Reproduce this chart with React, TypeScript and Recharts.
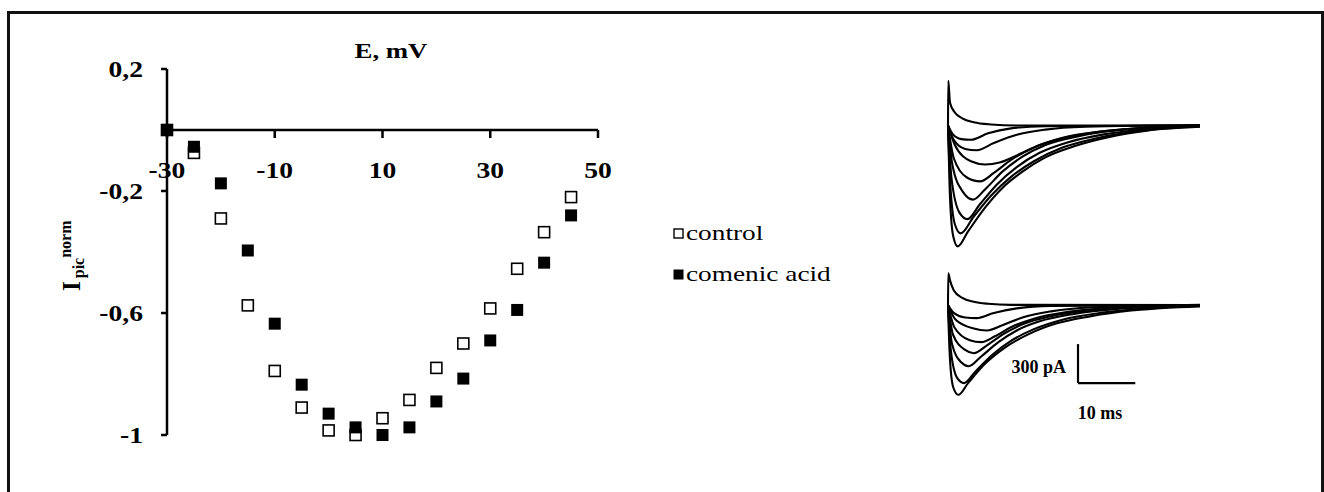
import React from 'react';
import {
  ScatterChart,
  Scatter,
  XAxis,
  YAxis,
  Legend,
  LineChart,
  Line,
  ReferenceLine,
} from 'recharts';

// I-V data (membrane potential, mV / normalized peak current)
const voltages = [-30, -25, -20, -15, -10, -5, 0, 5, 10, 15, 20, 25, 30, 35, 40, 45];
const controlNorm = [0, -0.075, -0.29, -0.575, -0.79, -0.91, -0.985, -1.0, -0.945, -0.885, -0.78, -0.7, -0.585, -0.455, -0.335, -0.22];
const comenicNorm = [0, -0.055, -0.175, -0.395, -0.635, -0.835, -0.93, -0.975, -1.0, -0.975, -0.89, -0.815, -0.69, -0.59, -0.435, -0.28];

const xTicks = [-30, -10, 10, 30, 50];
const yTicks = [0.2, -0.2, -0.6, -1];

// current traces, [time ms, current pA]
const topCap = [[0, 0], [0.05, 345], [0.35, 175], [1.2, 100], [2.5, 55], [4.5, 25], [7.5, 8], [12, 0], [44, 0]];
const top1 = [[0, 0], [0.3, -500], [0.9, -850], [1.7, -930], [3.5, -815], [6.5, -630], [9.5, -480], [13, -355], [17, -245], [22, -160], [28, -90], [35, -38], [44, -10]];
const top2 = [[0, 0], [0.4, -450], [1.2, -760], [2.2, -830], [4.5, -700], [7.5, -540], [11, -395], [15, -275], [20, -170], [26, -98], [33, -45], [44, -8]];
const top3 = [[0, 0], [0.6, -400], [2, -670], [3.4, -720], [5.5, -610], [8.5, -455], [12, -320], [16, -210], [21, -128], [27, -70], [35, -28], [44, -4]];
const top4 = [[0, 0], [0.8, -310], [2.6, -510], [4.4, -570], [6.5, -490], [9.5, -355], [13, -240], [17, -150], [23, -80], [30, -35], [44, -2]];
const top5 = [[0, 0], [1, -250], [3.3, -400], [5.6, -430], [8, -365], [11, -265], [15, -170], [20, -95], [27, -45], [35, -15], [44, 2]];
const top6 = [[0, 0], [1.2, -150], [4, -275], [6.5, -300], [9, -285], [12, -230], [16, -150], [21, -88], [27, -45], [35, -18], [44, 0]];
const top7 = [[0, 0], [1, -110], [3, -180], [5, -190], [8, -135], [12, -72], [17, -32], [24, -10], [44, 4]];
const top8 = [[0, 0], [0.8, -65], [2.3, -105], [4, -110], [7, -60], [11, -22], [17, -6], [44, 0]];

const botCap = [[0, 0], [0.05, 245], [0.35, 190], [1, 115], [2.5, 55], [4.5, 25], [7, 10], [11, 2], [44, 0]];
const bot1 = [[0, 0], [0.3, -380], [0.9, -630], [1.8, -690], [3.5, -600], [6.5, -450], [10, -325], [14, -225], [19, -140], [25, -85], [32, -42], [44, -10]];
const bot2 = [[0, 0], [0.5, -350], [1.6, -560], [2.8, -600], [4.8, -510], [7.8, -380], [11, -275], [15, -185], [20, -112], [27, -58], [35, -24], [44, -5]];
const bot3 = [[0, 0], [0.7, -300], [2.3, -440], [3.6, -470], [5.8, -395], [8.8, -285], [12, -195], [16, -125], [22, -68], [30, -28], [44, -3]];
const bot4 = [[0, 0], [0.9, -230], [3, -345], [4.5, -370], [6.8, -310], [9.8, -220], [13, -148], [18, -85], [25, -40], [33, -14], [44, 0]];
const bot5 = [[0, 0], [1.1, -170], [3.8, -270], [5.8, -285], [8.2, -240], [11, -170], [15, -105], [21, -52], [29, -20], [44, 2]];
const bot6 = [[0, 0], [1.3, -110], [4.5, -180], [6.8, -195], [9.5, -155], [13, -95], [18, -48], [25, -18], [44, 0]];
const bot7 = [[0, 0], [1, -60], [3, -95], [5, -100], [8, -60], [12, -25], [18, -6], [44, 0]];

const topTraces = [topCap, top1, top2, top3, top4, top5, top6, top7, top8];
const bottomTraces = [botCap, bot1, bot2, bot3, bot4, bot5, bot6, bot7];

// scale bar: 300 pA / 10 ms
const SCALE_T0 = 22.7;
const SCALE_I0 = -300;
const SCALE_DT = 10;
const SCALE_DI = 300;

const SERIF = '"Liberation Serif", "Times New Roman", serif';

const X_DOMAIN: [number, number] = [-30, 50];
const Y_DOMAIN: [number, number] = [-1, 0.2];
const PLOT_LEFT = 167;
const PLOT_TOP = 69;
const PLOT_W = 431;
const PLOT_H = 366;
const CHART_W = 900;
const CHART_H = 480;
const ZERO_Y = PLOT_TOP + (PLOT_H * Y_DOMAIN[1]) / (Y_DOMAIN[1] - Y_DOMAIN[0]);

const controlPts = voltages.map((x, i) => ({ x, y: controlNorm[i] }));
const comenicPts = voltages.map((x, i) => ({ x, y: comenicNorm[i] }));
const toPoints = (arr: number[][]) => arr.map(([t, v]) => ({ t, v }));

const fmt = (v: number) => String(v).replace('.', ',');

const OpenSquare = (props: any) => {
  const { cx, cy } = props;
  return <rect x={cx - 5.5} y={cy - 5.5} width={11} height={11} fill="#fff" stroke="#000" strokeWidth={1.6} />;
};

const FilledSquare = (props: any) => {
  const { cx, cy } = props;
  return <rect x={cx - 6} y={cy - 6} width={12} height={12} fill="#000" />;
};

const NoMark = () => <g />;

const YTick = ({ x, y, payload }: any) => (
  <g transform={`translate(${x - 16},${y + 8})`}>
    <text transform="scale(1.2,1)" textAnchor="end" fontFamily={SERIF} fontWeight="bold" fontSize={23} fill="#000">
      {fmt(payload.value)}
    </text>
  </g>
);

const XTick = ({ x, y, payload }: any) => (
  <g transform={`translate(${x},${y + 38})`}>
    <text transform="scale(1.2,1)" textAnchor="middle" fontFamily={SERIF} fontWeight="bold" fontSize={23} fill="#000">
      {fmt(payload.value)}
    </text>
  </g>
);

const legendItems = [
  { name: 'control', filled: false },
  { name: 'comenic acid', filled: true },
];

const renderLegend = () => (
  <div style={{ fontFamily: SERIF, fontSize: 21, lineHeight: '21px', color: '#000' }}>
    {legendItems.map((item) => (
      <div key={item.name} style={{ display: 'flex', alignItems: 'center', height: 41 }}>
        <svg width={11} height={11} style={{ display: 'block' }}>
          {item.filled ? (
            <rect x={0.5} y={0.5} width={10} height={10} fill="#000" />
          ) : (
            <rect x={1} y={1} width={9} height={9} fill="#fff" stroke="#000" strokeWidth={1.4} />
          )}
        </svg>
        <span style={{ display: 'inline-block', marginLeft: 2, transform: 'scaleX(1.3)', transformOrigin: 'left center', whiteSpace: 'nowrap' }}>
          {item.name}
        </span>
      </div>
    ))}
  </div>
);

const axisStyle = { stroke: '#000', strokeWidth: 2.5 };

function IVChart() {
  return (
    <>
      <div style={{ position: 'absolute', left: 0, top: 0 }}>
        <ScatterChart
          width={CHART_W}
          height={CHART_H}
          margin={{ top: PLOT_TOP, right: CHART_W - PLOT_LEFT - PLOT_W, bottom: CHART_H - PLOT_TOP - PLOT_H, left: PLOT_LEFT - 60 }}
        >
          <XAxis type="number" dataKey="x" domain={X_DOMAIN} hide />
          <YAxis
            type="number"
            dataKey="y"
            domain={Y_DOMAIN}
            ticks={yTicks}
            interval={0}
            width={60}
            axisLine={axisStyle}
            tickLine={axisStyle}
            tickSize={6}
            tick={<YTick />}
          />
          <Legend
            layout="vertical"
            align="center"
            verticalAlign="middle"
            content={renderLegend}
            wrapperStyle={{ left: 673, top: 213, width: 200, height: 82 }}
          />
          <Scatter name="control" data={controlPts} shape={<OpenSquare />} isAnimationActive={false} />
          <Scatter name="comenic acid" data={comenicPts} shape={<FilledSquare />} isAnimationActive={false} />
        </ScatterChart>
      </div>
      {/* x axis drawn through y = 0, same x scale as the plot above */}
      <div style={{ position: 'absolute', left: 0, top: 0 }}>
        <ScatterChart
          width={CHART_W}
          height={ZERO_Y + 60}
          margin={{ top: ZERO_Y - 40, right: CHART_W - PLOT_LEFT - PLOT_W, bottom: 0, left: PLOT_LEFT }}
        >
          <XAxis
            type="number"
            dataKey="x"
            domain={X_DOMAIN}
            allowDataOverflow
            ticks={xTicks}
            interval={0}
            height={60}
            axisLine={axisStyle}
            tickLine={axisStyle}
            tickSize={8}
            tick={<XTick />}
          />
          <YAxis type="number" dataKey="y" domain={Y_DOMAIN} allowDataOverflow hide />
          <Scatter data={controlPts} shape={<NoMark />} isAnimationActive={false} />
        </ScatterChart>
      </div>
    </>
  );
}

function TracePanel({ traces, domain, top, height, scaleBar }: any) {
  return (
    <div style={{ position: 'absolute', left: 940, top }}>
      <LineChart width={270} height={height} margin={{ top: 10, right: 10, bottom: 10, left: 8 }}>
        <XAxis type="number" dataKey="t" domain={[0, 44]} hide />
        <YAxis type="number" domain={domain} hide allowDataOverflow />
        {traces.map((tr: number[][], i: number) => (
          <Line
            key={i}
            data={toPoints(tr)}
            dataKey="v"
            type="monotone"
            stroke="#000"
            strokeWidth={2.1}
            dot={false}
            isAnimationActive={false}
          />
        ))}
        {scaleBar && (
          <ReferenceLine
            segment={[
              { x: SCALE_T0, y: SCALE_I0 },
              { x: SCALE_T0, y: SCALE_I0 - SCALE_DI },
            ]}
            stroke="#000"
            strokeWidth={2.2}
          />
        )}
        {scaleBar && (
          <ReferenceLine
            segment={[
              { x: SCALE_T0, y: SCALE_I0 - SCALE_DI },
              { x: SCALE_T0 + SCALE_DT, y: SCALE_I0 - SCALE_DI },
            ]}
            stroke="#000"
            strokeWidth={2.2}
          />
        )}
      </LineChart>
    </div>
  );
}

export default function App() {
  return (
    <div style={{ position: 'absolute', left: 0, top: 0, width: 1324, height: 492, overflow: 'hidden', background: '#fff' }}>
      <div
        style={{
          position: 'absolute',
          left: 7,
          top: 11,
          width: 1317,
          height: 520,
          border: '3px solid #111',
          boxSizing: 'border-box',
        }}
      />
      <IVChart />
      <TracePanel traces={topTraces} domain={[-950, 350]} top={70} height={189} />
      <TracePanel traces={bottomTraces} domain={[-730, 270]} top={260} height={150} scaleBar />
      <svg width={1324} height={492} style={{ position: 'absolute', left: 0, top: 0, pointerEvents: 'none' }}>
        <g transform="translate(391,58) scale(1.22,1)">
          <text textAnchor="middle" fontFamily={SERIF} fontWeight="bold" fontSize={22} fill="#000">
            E, mV
          </text>
        </g>
        <text transform="translate(80,291) rotate(-90)" fontFamily={SERIF} fontWeight="bold" fill="#000">
          <tspan fontSize={25}>I</tspan>
          <tspan fontSize={16} dx={3} dy={4}>pic</tspan>
          <tspan fontSize={16} dy={-13}>norm</tspan>
        </text>
        <text x={1066} y={373} textAnchor="end" fontFamily={SERIF} fontWeight="bold" fontSize={18} fill="#000">
          300 pA
        </text>
        <text x={1100} y={419} textAnchor="middle" fontFamily={SERIF} fontWeight="bold" fontSize={18} fill="#000">
          10 ms
        </text>
      </svg>
    </div>
  );
}
